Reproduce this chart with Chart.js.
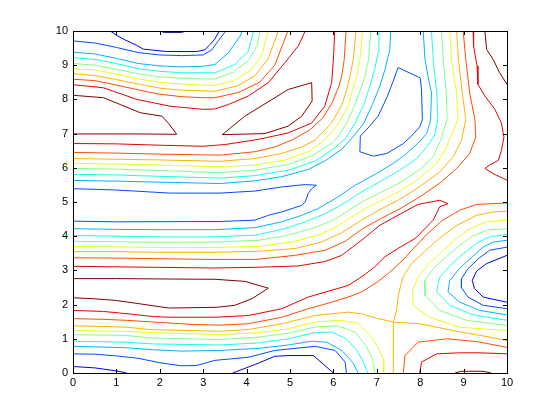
<!DOCTYPE html>
<html><head><meta charset="utf-8">
<script src="https://cdn.jsdelivr.net/npm/chart.js@4/dist/chart.umd.min.js"></script>
<style>html,body{margin:0;padding:0;background:#fff}</style>
</head><body>
<canvas id="c" width="560" height="420"></canvas>
<script>
// tick labels
const xTicks = [0,1,2,3,4,5,6,7,8,9,10];
const yTicks = [0,1,2,3,4,5,6,7,8,9,10];
// contour levels (index 0 = lowest)
const levels = [0,1,2,3,4,5,6,7,8,9,10];

// contour lines, [x, y] in data units
const L0_top = [[2.0,10],[2.1,9.96],[2.5,9.96],[2.62,10]];

const L1_top = [[0.86,10],[1.01,9.87],[1.2,9.74],[1.47,9.58],[1.62,9.47],[2.16,9.4],[2.85,9.4],[3.04,9.45],[3.16,9.61],[3.27,9.77],[3.37,10]];
const L1_bottomLeft = [[0,0.19],[0.5,0.15],[1.0,0.06],[1.24,0]];
const L1_dome = [[3.68,0],[4.2,0.25],[4.65,0.49],[5.0,0.51],[5.54,0.51],[6.0,0]];
const L1_right = [[10,3.44],[9.53,3.2],[9.3,2.98],[9.2,2.71],[9.25,2.47],[9.45,2.22],[10,2.07]];

const L2_top = [[0,9.71],[0.5,9.65],[1.0,9.52],[1.5,9.37],[2.0,9.3],[2.5,9.28],[3.0,9.3],[3.2,9.45],[3.35,9.72],[3.52,10]];
const L2_tongue = [[0,5.39],[1,5.35],[2.24,5.26],[3.39,5.26],[4.19,5.32],[4.81,5.44],[5.35,5.51],[5.61,5.49],[5.5,5.39],[5.42,5.25],[5.35,5.0],[5.27,4.9],[4.81,4.71],[4.5,4.61],[4.19,4.47],[3.39,4.43],[1,4.42],[0,4.44]];
const L2_loop = [[7.49,8.93],[8.0,8.63],[8.03,8.3],[8.05,7.4],[7.99,7.2],[7.8,6.93],[7.6,6.7],[7.23,6.42],[6.92,6.34],[6.61,6.47],[6.62,6.93],[6.84,7.22],[7.03,7.51],[7.23,8.05],[7.38,8.54],[7.49,8.93]];
const L2_bottom = [[0,0.56],[0.5,0.55],[1,0.5],[1.5,0.43],[2,0.3],[2.5,0.21],[2.85,0.22],[3.27,0.37],[4.04,0.46],[4.65,0.66],[5.58,0.78],[6.04,0.66],[6.27,0.32],[6.3,0]];
const L2_right = [[10,3.68],[9.6,3.59],[9.35,3.35],[9.1,3.05],[8.95,2.75],[8.95,2.5],[9.1,2.22],[9.45,1.98],[10,1.88]];

const L3_top = [[0,9.38],[0.5,9.33],[1,9.2],[1.5,9.05],[2,8.98],[2.5,8.95],[3,8.97],[3.27,9.02],[3.58,9.36],[3.85,9.85],[3.9,10]];
const L3_mid = [[0,5.63],[1,5.61],[2,5.58],[3.39,5.54],[4.19,5.62],[4.81,5.74],[5.42,5.95],[5.8,6.2],[6.2,6.55],[6.45,6.9],[6.7,7.3],[6.9,7.85],[7.07,8.39],[7.19,8.88],[7.3,9.46],[7.32,10]];
const L3_band = [[0,4.22],[1,4.2],[2,4.19],[3.27,4.19],[4.19,4.25],[4.81,4.42],[5.27,4.61],[5.65,4.81],[6.11,5.15],[6.5,5.49],[6.7,5.63],[6.99,5.83],[7.38,6.13],[7.69,6.42],[7.95,6.72],[8.15,7.0],[8.24,7.4],[8.26,8.19],[8.18,8.68],[8.11,9.17],[8.07,10]];
const L3_bottom = [[0,0.78],[1.2,0.74],[1.85,0.68],[2.5,0.64],[3.39,0.66],[4.27,0.72],[4.96,0.82],[5.5,0.93],[5.85,0.9],[6.2,0.65],[6.45,0.3],[6.57,0]];
const L3_right = [[10,3.88],[9.68,3.83],[9.45,3.68],[9.2,3.4],[8.9,3.05],[8.68,2.7],[8.64,2.37],[8.91,2.07],[9.37,1.83],[10,1.7]];

const L4_top = [[0,9.22],[0.5,9.17],[1,9.05],[1.5,8.9],[2,8.82],[2.5,8.78],[3,8.78],[3.27,8.78],[3.73,9.02],[4.04,9.41],[4.16,10]];
const L4_mid = [[0,5.81],[1,5.79],[2,5.75],[3.39,5.7],[4.19,5.77],[4.96,5.93],[5.58,6.2],[6.04,6.59],[6.27,6.85],[6.5,7.3],[6.7,7.85],[6.84,8.39],[6.95,8.88],[7.03,9.36],[7.05,10]];
const L4_band = [[0,4.02],[1,4.0],[2,3.98],[3.27,3.98],[4.19,4.03],[4.88,4.22],[5.35,4.42],[5.81,4.66],[6.27,4.98],[6.65,5.3],[7.07,5.59],[7.53,5.93],[7.92,6.27],[8.15,6.61],[8.33,6.95],[8.41,7.41],[8.38,8.19],[8.3,9.17],[8.26,10]];
const L4_bottom = [[0,0.93],[1.2,0.9],[1.85,0.85],[3.39,0.82],[4.27,0.88],[4.96,1.0],[5.58,1.18],[5.95,1.2],[6.3,1.0],[6.55,0.65],[6.7,0.3],[6.79,0]];
const L4_right = [[10,4.05],[9.6,3.98],[9.3,3.8],[9.0,3.5],[8.7,3.15],[8.45,2.8],[8.38,2.37],[8.68,1.98],[9.22,1.7],[10,1.54]];

const L5_top = [[0,9.05],[0.5,9.0],[1,8.88],[1.5,8.75],[2,8.66],[2.5,8.62],[3,8.6],[3.27,8.6],[3.7,8.8],[4.05,9.15],[4.25,9.6],[4.31,10]];
const L5_mid = [[0,5.98],[1,5.96],[2,5.92],[3.39,5.86],[4.19,5.93],[4.96,6.1],[5.5,6.35],[5.96,6.71],[6.1,6.9],[6.3,7.3],[6.5,7.85],[6.65,8.39],[6.73,8.68],[6.81,9.17],[6.86,10]];
const L5_band = [[0,3.85],[1,3.84],[2,3.82],[3.27,3.83],[4.27,3.88],[4.96,4.03],[5.58,4.25],[6.04,4.5],[6.65,5.0],[7.07,5.27],[7.53,5.56],[7.99,5.95],[8.3,6.32],[8.47,6.81],[8.62,7.41],[8.6,8.19],[8.53,9.17],[8.49,10]];
const L5_bottom = [[0,1.12],[1.2,1.1],[1.85,1.02],[3.39,0.98],[4.27,1.05],[4.96,1.16],[5.58,1.35],[6.1,1.38],[6.5,1.2],[6.75,0.8],[6.9,0.4],[6.96,0]];
const L5_right = [[10,4.22],[9.55,4.18],[9.2,4.0],[8.9,3.72],[8.6,3.4],[8.3,3.05],[8.1,2.7],[8.11,2.27],[8.45,1.83],[9.07,1.54],[10,1.39]];

const L6_top = [[0,8.9],[0.5,8.86],[1,8.74],[1.5,8.6],[2,8.5],[2.5,8.45],[3,8.42],[3.27,8.41],[3.7,8.55],[4.1,8.85],[4.35,9.3],[4.5,10]];
const L6_mid = [[0,6.13],[1,6.11],[2,6.08],[3.39,6.03],[4.19,6.08],[4.88,6.22],[5.42,6.47],[5.8,6.81],[6.12,7.3],[6.35,7.85],[6.47,8.39],[6.54,8.68],[6.61,9.17],[6.67,10]];
const L6_band = [[0,3.7],[1,3.69],[2,3.67],[3.27,3.67],[4.27,3.7],[5.04,3.83],[5.65,4.03],[6.11,4.3],[6.65,4.75],[7.07,5.02],[7.53,5.32],[7.99,5.7],[8.38,6.13],[8.57,6.52],[8.7,6.9],[8.87,7.41],[8.84,8.19],[8.72,9.17],[8.68,10]];
const L6_bottom = [[0,1.24],[1.2,1.22],[1.85,1.18],[3.39,1.12],[4.27,1.18],[4.96,1.29],[5.58,1.49],[6.19,1.54],[6.57,1.45],[6.85,1.1],[7.05,0.7],[7.15,0.4],[7.16,0]];
const L6_right = [[10,4.47],[9.53,4.42],[9.14,4.22],[8.85,3.95],[8.55,3.6],[8.2,3.2],[7.95,2.8],[7.82,2.4],[7.84,1.98],[8.22,1.63],[8.91,1.34],[10,1.24]];

const L7_top = [[0,8.75],[0.5,8.7],[1,8.58],[1.5,8.45],[2,8.33],[2.5,8.27],[3,8.25],[3.27,8.24],[3.8,8.4],[4.2,8.7],[4.5,9.2],[4.73,10]];
const L7_mid = [[0,6.27],[1,6.25],[2,6.23],[3.39,6.19],[4.19,6.27],[4.81,6.42],[5.27,6.61],[5.58,6.81],[5.95,7.3],[6.2,7.85],[6.33,8.39],[6.38,8.68],[6.46,9.17],[6.52,10]];
const L7_band = [[0,3.55],[1,3.55],[2,3.53],[3.27,3.53],[4.27,3.56],[5.12,3.64],[5.73,3.83],[6.19,4.1],[6.65,4.47],[7.07,4.78],[7.53,5.08],[7.99,5.45],[8.45,5.88],[8.76,6.32],[8.95,6.8],[9.05,7.41],[8.97,8.19],[8.88,9.17],[8.84,10]];
const L7_saddleA = [[0,1.38],[0.7,1.36],[1.24,1.34],[1.77,1.27],[2.77,1.24],[3.39,1.22],[4.04,1.27],[4.81,1.44],[5.58,1.68],[6.34,1.78],[6.65,1.73],[7.0,1.6],[7.38,1.49],[7.45,1.8],[7.5,2.3],[7.6,2.8],[7.8,3.2],[8.1,3.55],[8.45,3.95],[8.85,4.32],[9.3,4.61],[9.68,4.71],[10,4.73]];
const L7_saddleB = [[7.38,0],[7.38,1.49],[7.99,1.44],[8.76,1.24],[9.37,1.1],[10,0.95]];

const L8_top = [[0,8.59],[0.5,8.55],[1,8.42],[1.5,8.28],[2,8.15],[2.5,8.08],[3,8.05],[3.27,8.05],[3.8,8.2],[4.3,8.5],[4.65,9.0],[4.95,10]];
const L8_mid = [[0,6.45],[1,6.43],[2,6.4],[3.39,6.37],[4.19,6.47],[4.65,6.61],[5.04,6.81],[5.45,7.1],[5.75,7.45],[5.97,7.9],[6.13,8.39],[6.19,8.68],[6.25,9.17],[6.29,10]];
const L8_band = [[0,3.37],[1,3.36],[2,3.34],[3.27,3.32],[4.2,3.32],[5.12,3.44],[5.81,3.59],[6.27,3.85],[6.65,4.2],[7.07,4.5],[7.53,4.8],[7.99,5.15],[8.45,5.55],[8.84,5.98],[9.14,6.42],[9.28,6.9],[9.26,7.41],[9.14,8.19],[9.05,9.17],[8.99,10]];
const L8_low = [[0,1.59],[0.7,1.57],[1.24,1.54],[1.85,1.49],[2.77,1.42],[3.39,1.4],[4.04,1.44],[4.81,1.63],[5.42,1.88],[5.96,2.07],[6.34,2.22],[6.65,2.37],[7.0,2.65],[7.3,2.95],[7.6,3.3],[7.85,3.65],[8.15,4.05],[8.5,4.45],[8.91,4.76],[9.3,4.93],[10,4.97]];
const L8_corner = [[7.61,0],[7.65,0.51],[7.95,0.9],[8.61,1.0],[9.3,0.92],[10,0.75]];

const L9_top = [[0,8.43],[0.7,8.34],[1.47,8.0],[2.24,7.8],[3.0,7.71],[3.27,7.72],[3.58,7.85],[4.04,8.1],[4.5,8.49],[4.88,9.07],[5.19,9.56],[5.35,10]];
const L9_mid = [[0,6.71],[1,6.7],[2,6.66],[3,6.63],[3.5,6.68],[4.27,6.83],[4.96,7.02],[5.5,7.31],[5.8,7.8],[5.96,8.49],[6.0,9.17],[6.03,10]];
const L9_ridge = [[0,1.83],[0.7,1.8],[1.27,1.73],[1.85,1.65],[2.24,1.63],[3.27,1.63],[4.04,1.68],[4.81,1.88],[5.42,2.22],[5.96,2.42],[6.34,2.56],[6.65,2.81],[6.95,3.1],[7.19,3.4],[7.5,3.65],[7.9,3.95],[8.3,4.47],[8.45,4.86],[8.64,4.95],[8.45,5.05],[7.95,4.93],[7.61,4.7],[7.07,4.32],[6.65,3.88],[6.3,3.55],[6.19,3.44],[5.81,3.26],[5.19,3.13],[4.19,3.09],[3.27,3.07],[1.24,3.1],[0,3.12]];
const L9_right = [[9.22,10],[9.23,9.56],[9.31,8.98],[9.33,8.44],[9.49,8.1],[9.72,7.71],[9.87,7.31],[9.93,6.9],[9.87,6.5],[9.8,6.22],[9.6,6.08],[9.49,5.98],[9.68,5.83],[10,5.64]];
const L9_corner = [[7.99,0],[8.03,0.32],[8.38,0.56],[8.91,0.59],[9.37,0.59],[10,0.56]];

const L10_islandA = [[0,8.12],[0.7,8.05],[1.09,7.85],[1.55,7.61],[2.05,7.51],[2.2,7.3],[2.39,6.98],[1.5,6.99],[0,6.99]];
const L10_islandB = [[3.44,6.97],[3.96,7.51],[4.96,8.29],[5.5,8.49],[5.51,7.95],[5.27,7.51],[4.96,7.22],[4.42,7.0],[3.44,6.97]];
const L10_ridge = [[0,2.76],[1,2.76],[2,2.75],[3.27,2.74],[3.96,2.68],[4.5,2.48],[4.12,2.17],[3.73,1.98],[3.3,1.92],[2.2,1.9],[1.5,2.03],[1,2.12],[0.5,2.17],[0,2.2]];
const L10_corner = [[9.49,10],[9.53,9.46],[9.68,9.17],[9.83,8.78],[10,8.44]];
const L10_bottom = [[8.8,0],[8.95,0.05],[9.45,0.05],[9.64,0]];

// which level each line belongs to
const contourLines = [
  [0, L0_top],
  [1, L1_top],[1, L1_bottomLeft],[1, L1_dome],[1, L1_right],
  [2, L2_top],[2, L2_tongue],[2, L2_loop],[2, L2_bottom],[2, L2_right],
  [3, L3_top],[3, L3_mid],[3, L3_band],[3, L3_bottom],[3, L3_right],
  [4, L4_top],[4, L4_mid],[4, L4_band],[4, L4_bottom],[4, L4_right],
  [5, L5_top],[5, L5_mid],[5, L5_band],[5, L5_bottom],[5, L5_right],
  [6, L6_top],[6, L6_mid],[6, L6_band],[6, L6_bottom],[6, L6_right],
  [7, L7_top],[7, L7_mid],[7, L7_band],[7, L7_saddleA],[7, L7_saddleB],
  [8, L8_top],[8, L8_mid],[8, L8_band],[8, L8_low],[8, L8_corner],
  [9, L9_top],[9, L9_mid],[9, L9_ridge],[9, L9_right],[9, L9_corner],
  [10, L10_islandA],[10, L10_islandB],[10, L10_ridge],[10, L10_corner],[10, L10_bottom]
];

// styling: jet colormap for levels
function jet(t){
  const c = v => Math.round(255*Math.max(0,Math.min(1,v)));
  return 'rgb(' + c(1.5-Math.abs(4*t-3)) + ',' + c(1.5-Math.abs(4*t-2)) + ',' + c(1.5-Math.abs(4*t-1)) + ')';
}
const levelColors = levels.map((l,i) => jet(i/(levels.length-1)));

const datasets = contourLines.map(([lv, pts]) => ({
  data: pts.map(p => ({x:p[0], y:p[1]})),
  showLine: true, borderColor: levelColors[lv], backgroundColor: levelColors[lv],
  borderWidth: 1, pointRadius: 0, pointHoverRadius: 0, fill: false, tension: 0
}));

const frame = {
  id: 'frame',
  afterDraw(chart){
    const {ctx, chartArea:a, scales} = chart;
    ctx.save();
    ctx.strokeStyle = '#000'; ctx.lineWidth = 1;
    ctx.strokeRect(Math.round(a.left)+0.5, Math.round(a.top)+0.5, Math.round(a.right-a.left), Math.round(a.bottom-a.top));
    const L = 4;
    ctx.beginPath();
    xTicks.forEach(v => {
      const px = Math.round(scales.x.getPixelForValue(v))+0.5;
      ctx.moveTo(px, a.bottom); ctx.lineTo(px, a.bottom-L);
      ctx.moveTo(px, a.top); ctx.lineTo(px, a.top+L);
    });
    yTicks.forEach(v => {
      const py = Math.round(scales.y.getPixelForValue(v))+0.5;
      ctx.moveTo(a.left, py); ctx.lineTo(a.left+L, py);
      ctx.moveTo(a.right, py); ctx.lineTo(a.right-L, py);
    });
    ctx.stroke();
    ctx.restore();
  }
};

const tickFont = {family: '"Liberation Sans", Arial, Helvetica, sans-serif', size: 11};
new Chart(document.getElementById('c'), {
  type: 'scatter',
  data: {datasets},
  options: {
    responsive: false, animation: false, devicePixelRatio: 1,
    layout: {padding: {top: 31, right: 53, left: 0, bottom: 0}},
    plugins: {legend: {display: false}, tooltip: {enabled: false}},
    scales: {
      x: {type: 'linear', min: 0, max: 10,
          afterBuildTicks: s => { s.ticks = xTicks.map(v => ({value: v})); },
          afterFit: s => { s.height = 47; },
          grid: {display: false, drawTicks: false, tickLength: 0}, border: {display: false},
          ticks: {color: '#000', font: tickFont, padding: 3, maxRotation: 0, autoSkip: false}},
      y: {type: 'linear', min: 0, max: 10,
          afterBuildTicks: s => { s.ticks = yTicks.map(v => ({value: v})); },
          afterFit: s => { s.width = 73; },
          grid: {display: false, drawTicks: false, tickLength: 0}, border: {display: false},
          ticks: {color: '#000', font: tickFont, padding: 5, autoSkip: false}}
    }
  },
  plugins: [frame]
});
</script>
</body></html>
